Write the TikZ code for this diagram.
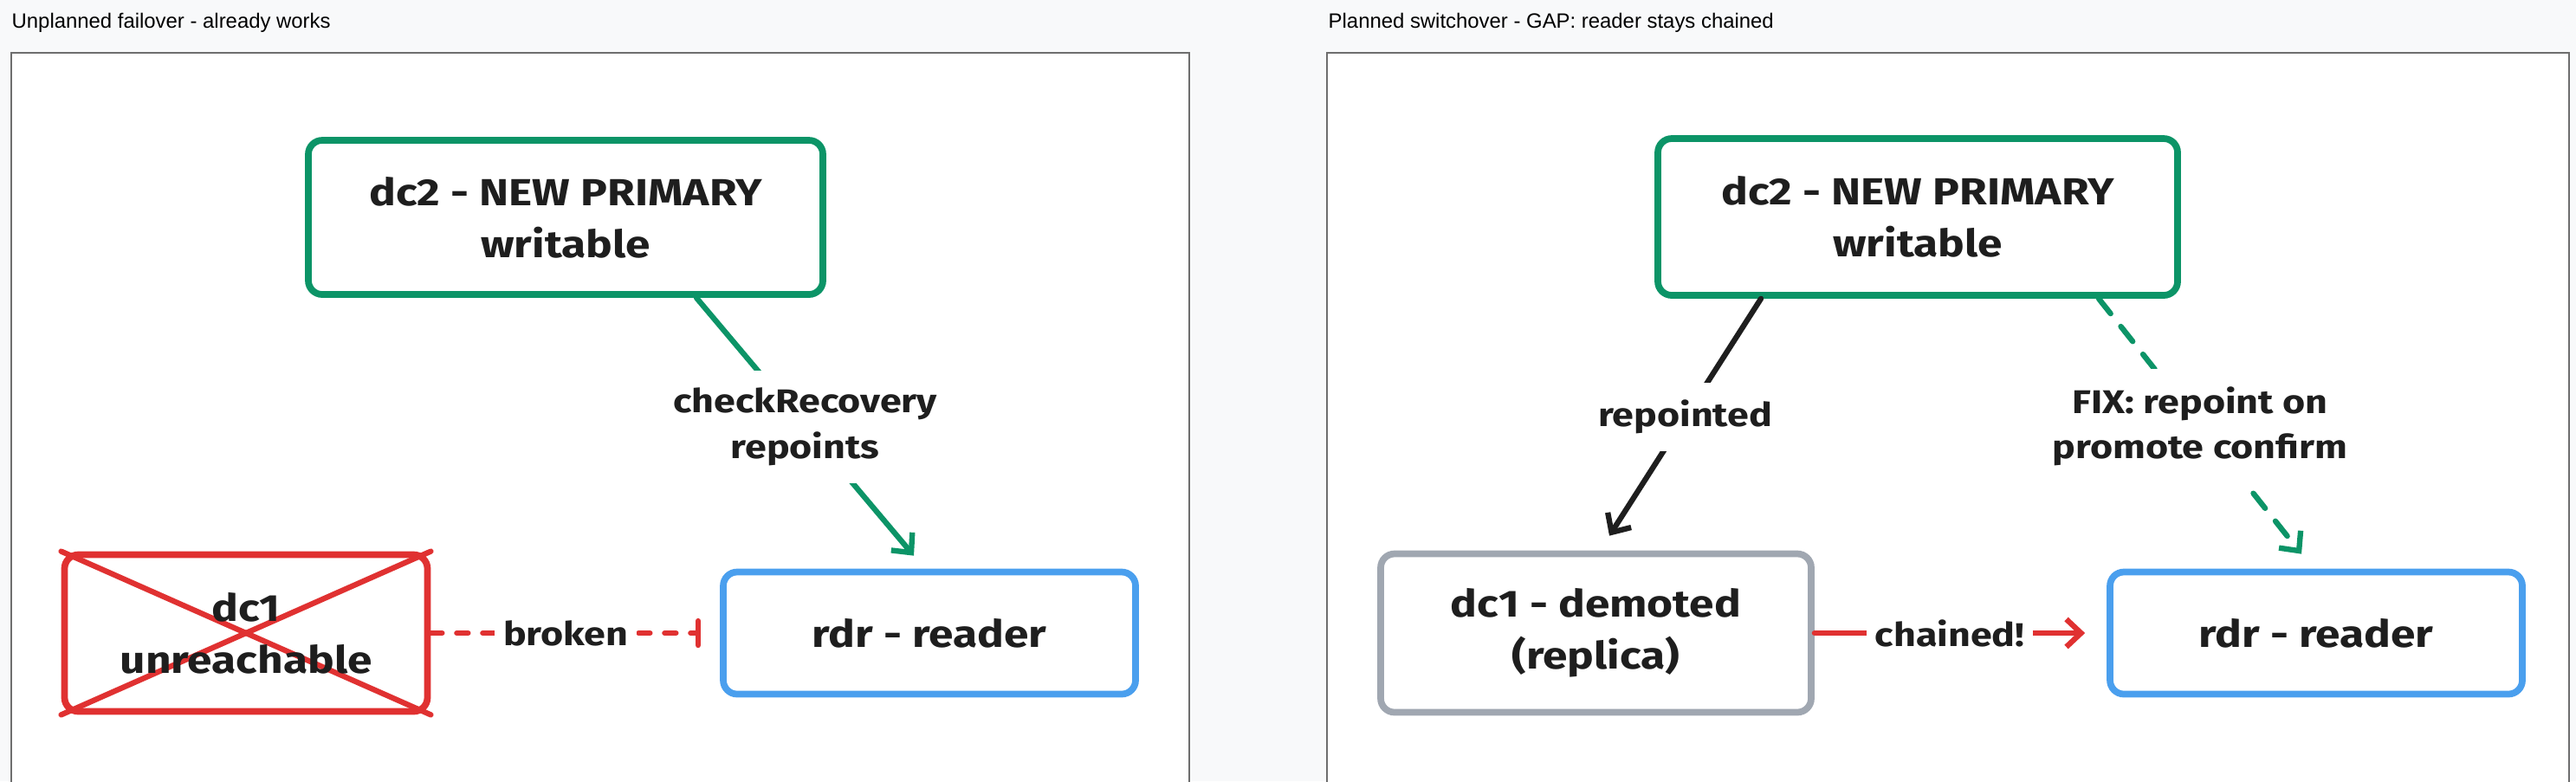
\documentclass[tikz,border=0pt]{standalone}
\usepackage{fontspec}
\setmainfont{Liberation Sans}
\newfontfamily\handfont{Fira Sans}[FakeStretch=1.18]
\usepackage{xcolor}
\usepackage{tikz}
\usetikzlibrary{arrows.meta, positioning, calc}

\definecolor{ink}{HTML}{1E1E1E}
\definecolor{grn}{HTML}{0C9467}
\definecolor{redc}{HTML}{E03131}
\definecolor{bluec}{HTML}{4A9FEE}
\definecolor{grayc}{HTML}{A0A7B1}
\definecolor{bgcol}{HTML}{F8F9FA}
\definecolor{framegray}{HTML}{6E6E6E}

\newcommand{\boxfont}{\handfont\bfseries\fontsize{12.4}{17}\selectfont}
\newcommand{\labelfont}{\handfont\bfseries\fontsize{10.8}{15}\selectfont}
\newcommand{\titlefont}{\fontsize{6.8}{8}\selectfont}

\begin{document}
\begin{tikzpicture}[
    box/.style={
        rectangle,
        draw,
        rounded corners=0.16cm,
        line width=2.2pt,
        fill=white,
        align=center,
        text=ink,
        font=\boxfont,
        inner sep=0pt
    },
    edgelabel/.style={
        fill=white,
        text=ink,
        font=\labelfont,
        align=center,
        inner xsep=0.1cm,
        inner ysep=0.2cm
    },
    panel/.style={draw=framegray, line width=0.5pt, fill=white},
    title/.style={anchor=base west, inner sep=0pt, font=\titlefont, text=black},
    link/.style={line width=1.8pt, line cap=round},
    arrow/.style={link, -{Straight Barb[length=0.17cm, width=0.32cm]}}
]

\fill[bgcol] (0,0) rectangle (29.74,-9.02);
\useasboundingbox (0,0) rectangle (29.74,-9.02);

% panels
\draw[panel] (0.13,-0.61) rectangle (13.73,-9.4);
\draw[panel] (15.32,-0.61) rectangle (29.66,-9.4);
\node[title] (titleL) at (0.13,-0.32) {Unplanned failover - already works};
\node[title] (titleR) at (15.33,-0.32) {Planned switchover - GAP: reader stays chained};

% unplanned failover
\node[box, draw=grn, minimum width=5.94cm, minimum height=1.78cm] (dc2L) at (6.53,-2.51) {dc2 - NEW PRIMARY\\writable};
\node[box, draw=redc, minimum width=4.19cm, minimum height=1.81cm] (dc1L) at (2.84,-7.31) {};
\draw[link, draw=redc] (dc1L.north west) -- (dc1L.south east);
\draw[link, draw=redc] (dc1L.south west) -- (dc1L.north east);
\node[font=\boxfont, text=ink, align=center] (dc1Ltext) at (dc1L.center) {dc1\\unreachable};
\node[box, draw=bluec, minimum width=4.76cm, minimum height=1.41cm] (rdrL) at (10.73,-7.31) {rdr - reader};

\coordinate (dc2Lout) at ([xshift=1.51cm]dc2L.south);
\coordinate (rdrLin) at ([xshift=-0.18cm, yshift=0.15cm]rdrL.north);
\coordinate (rdrLstop) at ([xshift=-0.22cm]rdrL.west);

\draw[arrow, draw=grn] (dc2Lout) -- node[edgelabel] {checkRecovery\\repoints} (rdrLin);
\draw[link, draw=redc, dash pattern=on 0.13cm off 0.17cm, -{Bar[width=0.28cm, line cap=round]}] (dc1L.east) -- node[edgelabel] {broken} (rdrLstop);

% planned switchover
\node[box, draw=grn, minimum width=6.0cm, minimum height=1.81cm] (dc2R) at (22.14,-2.505) {dc2 - NEW PRIMARY\\writable};
\node[box, draw=grayc, minimum width=4.97cm, minimum height=1.83cm] (dc1R) at (18.425,-7.31) {dc1 - demoted\\(replica)};
\node[box, draw=bluec, minimum width=4.76cm, minimum height=1.41cm] (rdrR) at (26.74,-7.31) {rdr - reader};

\coordinate (dc2Rleft) at ([xshift=-1.81cm]dc2R.south);
\coordinate (dc2Rright) at ([xshift=2.09cm]dc2R.south);
\coordinate (dc1Rin) at ([xshift=0.155cm, yshift=0.17cm]dc1R.north);
\coordinate (rdrRin) at ([xshift=-0.17cm, yshift=0.17cm]rdrR.north);
\coordinate (rdrRstop) at ([xshift=-0.25cm]rdrR.west);

\draw[arrow, draw=ink] (dc2Rleft) -- node[edgelabel] {repointed} (dc1Rin);
\draw[arrow, draw=grn, dash pattern=on 0.22cm off 0.19cm] (dc2Rright) -- node[edgelabel] {FIX: repoint on\\promote confirm} (rdrRin);
\draw[arrow, draw=redc] (dc1R.east) -- node[edgelabel] {chained!} (rdrRstop);

\end{tikzpicture}
\end{document}
